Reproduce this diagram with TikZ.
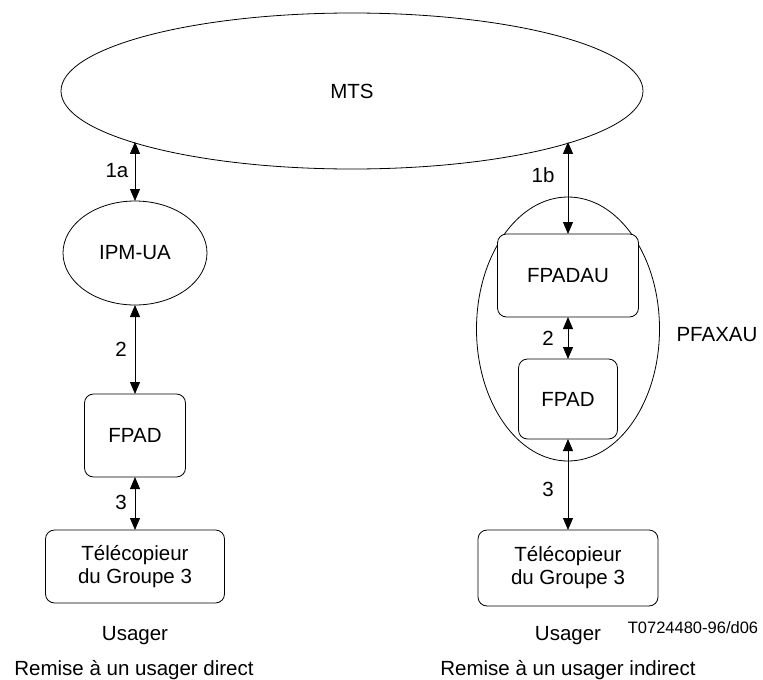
\documentclass[tikz,border=0pt]{standalone}
\usepackage{fontspec}
\setmainfont{Liberation Sans}
\usetikzlibrary{shapes.geometric,arrows.meta}
\begin{document}
\begin{tikzpicture}[x=1pt,y=-1pt,
  >={Triangle[length=12pt,width=10pt]},
  txt/.style={font=\fontsize{20.5}{23}\selectfont, inner sep=0pt, outer sep=0pt},
  smalltxt/.style={font=\fontsize{16.5}{19}\selectfont, inner sep=0pt, outer sep=0pt},
  ell/.style={draw, ellipse, line width=0.8pt, inner sep=0pt, outer sep=0pt, font=\fontsize{20.5}{23}\selectfont},
  rbox/.style={draw, rounded corners=9pt, line width=0.8pt, fill=white, inner sep=0pt, outer sep=0pt, align=center, font=\fontsize{20.5}{23}\selectfont},
  link/.style={<->, line width=0.8pt}]
\useasboundingbox (0,0) rectangle (763,680);

% left column
\node[ell, minimum width=582pt, minimum height=156pt] (mts) at (352,91) {MTS};
\node[ell, minimum width=144pt, minimum height=104pt] (ipm) at (135,253) {IPM-UA};
\node[rbox, minimum width=101pt, minimum height=83pt] (fpad1) at (135,435.5) {FPAD};
\node[rbox, minimum width=179pt, minimum height=73pt] (tel1) at (135,566.5) {Télécopieur\\du Groupe 3};

% right column
\node[ell, minimum width=183pt, minimum height=264pt] (pfax) at (568,329) {};
\node[rbox, minimum width=141pt, minimum height=83pt] (fpadau) at (568,275.5) {FPADAU};
\node[rbox, minimum width=99pt, minimum height=80pt] (fpad2) at (568,399) {FPAD};
\node[rbox, minimum width=180pt, minimum height=76pt] (tel2) at (568,568) {Télécopieur\\du Groupe 3};

% connectors
\draw[link] (mts.193.48 -| ipm.north) -- (ipm.north);
\draw[link] (ipm.south) -- (fpad1.north);
\draw[link] (fpad1.south) -- (tel1.north);
\draw[link] (mts.-13.48 -| fpadau.north) -- (fpadau.north);
\draw[link] (fpadau.south) -- (fpad2.north);
\draw[link] (fpad2.south) -- (tel2.north);

% labels
\node[txt, anchor=base] (l1a) at (117,177) {1a};
\node[txt, anchor=base] (l2a) at (121,356) {2};
\node[txt, anchor=base] (l3a) at (121,509) {3};
\node[txt, anchor=base] (l1b) at (543,182) {1b};
\node[txt, anchor=base] (l2b) at (548,345) {2};
\node[txt, anchor=base] (l3b) at (548,496) {3};
\node[txt, anchor=base] (pfaxlab) at (717,341) {PFAXAU};
\node[txt, anchor=base] (us1) at (135,640) {Usager};
\node[txt, anchor=base] (us2) at (568,640) {Usager};
\node[txt, anchor=base] (rem1) at (134,675) {Remise à un usager direct};
\node[txt, anchor=base] (rem2) at (568,675) {Remise à un usager indirect};
\node[smalltxt, anchor=base] (code) at (693,633) {T0724480-96/d06};
\end{tikzpicture}
\end{document}
